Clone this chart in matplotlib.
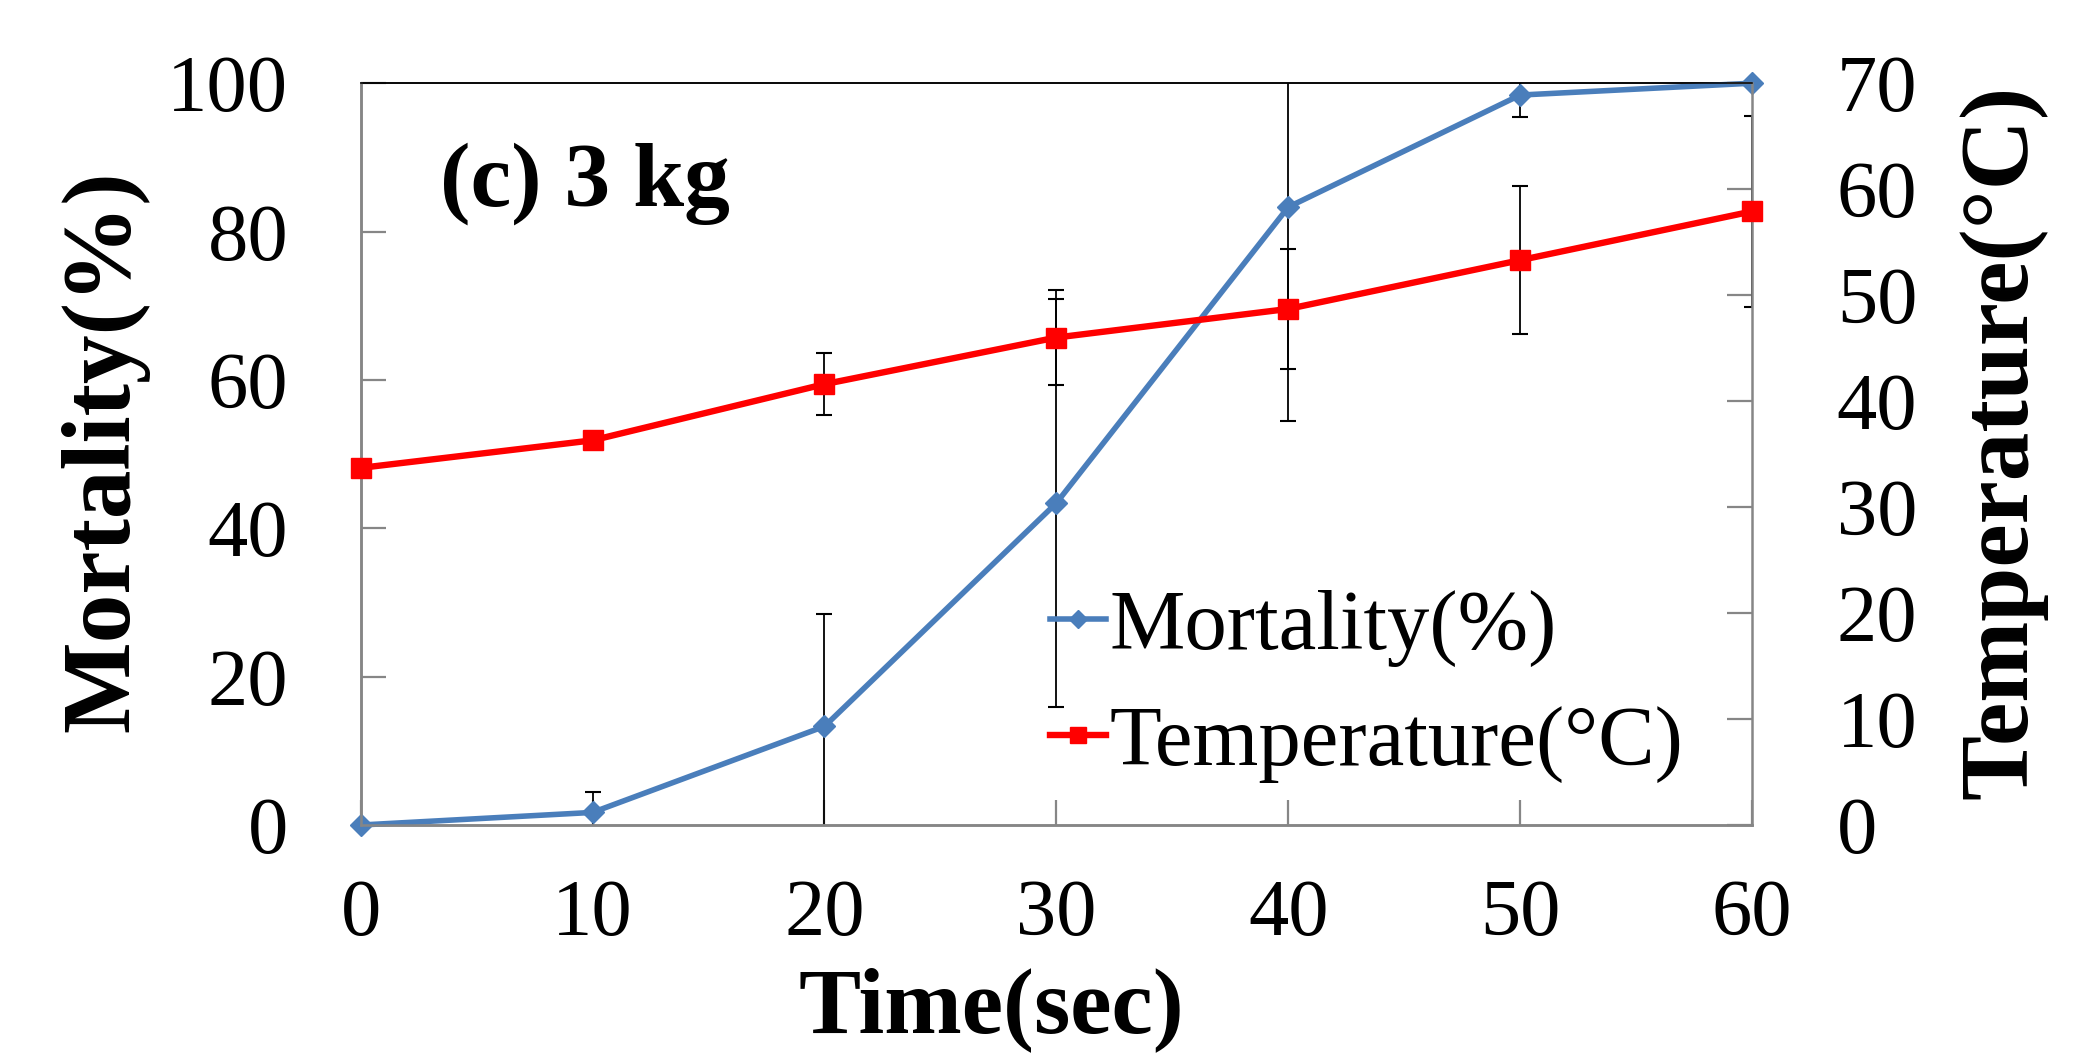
import numpy as np
import matplotlib.pyplot as plt

# data
time = [0, 10, 20, 30, 40, 50, 60]
mortality = [0, 1.7, 13.3, 43.4, 83.3, 98.4, 100]
mortality_err = [0, 2.8, 15.2, 27.5, 28.9, 2.9, 0]
temperature = [33.7, 36.3, 41.6, 46.0, 48.7, 53.3, 57.9]
temperature_err = [0, 0, 2.9, 4.5, 5.7, 7.0, 9.0]

plt.rcParams['font.family'] = ['Liberation Serif', 'DejaVu Serif']

blue = '#4a7ebb'
red = '#ff0000'
gray = '#868686'

fig = plt.figure(figsize=(20.97, 10.53), dpi=100)
ax = fig.add_axes([0.172, 0.2165, 0.6635, 0.7045])
ax2 = ax.twinx()

# error bars first, lines and markers on top
ax.errorbar(time, mortality, yerr=mortality_err, fmt='none', ecolor='black',
            elinewidth=1.3, capsize=6, capthick=1.5, zorder=2)
l1, = ax.plot(time, mortality, color=blue, lw=4, marker='D', ms=11,
              clip_on=False, zorder=3, label='Mortality(%)')
ax2.errorbar(time, temperature, yerr=temperature_err, fmt='none', ecolor='black',
             elinewidth=1.3, capsize=6, capthick=1.5, zorder=2)
l2, = ax2.plot(time, temperature, color=red, lw=4.6, marker='s', ms=14,
               clip_on=False, zorder=3, label='Temperature(°C)')

ax.set_xlim(0, 60)
ax.set_ylim(0, 100)
ax2.set_ylim(0, 70)
ax.set_xticks(range(0, 61, 10))
ax.set_yticks(range(0, 101, 20))
ax2.set_yticks(range(0, 71, 10))

for a in (ax, ax2):
    for s in a.spines.values():
        s.set_color(gray)
        s.set_linewidth(1.8)
    a.spines['top'].set_color('black')
    a.spines['top'].set_linewidth(1.1)
ax.spines['right'].set_visible(False)

ax.tick_params(axis='x', direction='in', length=18, width=1.6, color=gray,
               labelsize=58, pad=39)
ax.tick_params(axis='y', direction='in', length=18, width=1.6, color=gray,
               labelsize=58, pad=52)
ax2.tick_params(axis='y', direction='in', length=18, width=1.6, color=gray,
                labelsize=58, pad=61)

ax.set_xlabel('Time(sec)', fontsize=67, fontweight='bold')
ax.xaxis.set_label_coords(0.4536, -0.192)
ax.set_ylabel('Mortality(%)', fontsize=70, fontweight='bold')
ax.yaxis.set_label_coords(-0.152, 0.504)
ax2.set_ylabel('Temperature(°C)', fontsize=70, fontweight='bold')
ax2.yaxis.set_label_coords(1.148, 0.517)

ax.text(0.0568, 0.8356, '(c) 3 kg', transform=ax.transAxes, fontsize=66,
        fontweight='bold', va='baseline', ha='left')

ax2.legend(handles=[l1, l2], loc='upper left', bbox_to_anchor=(0.4953, 0.318),
           frameon=False, fontsize=61, handlelength=0.66, handletextpad=0.05,
           borderpad=0, borderaxespad=0, labelspacing=0.46, markerscale=0.8)

fig.savefig('out.png', dpi=100)
